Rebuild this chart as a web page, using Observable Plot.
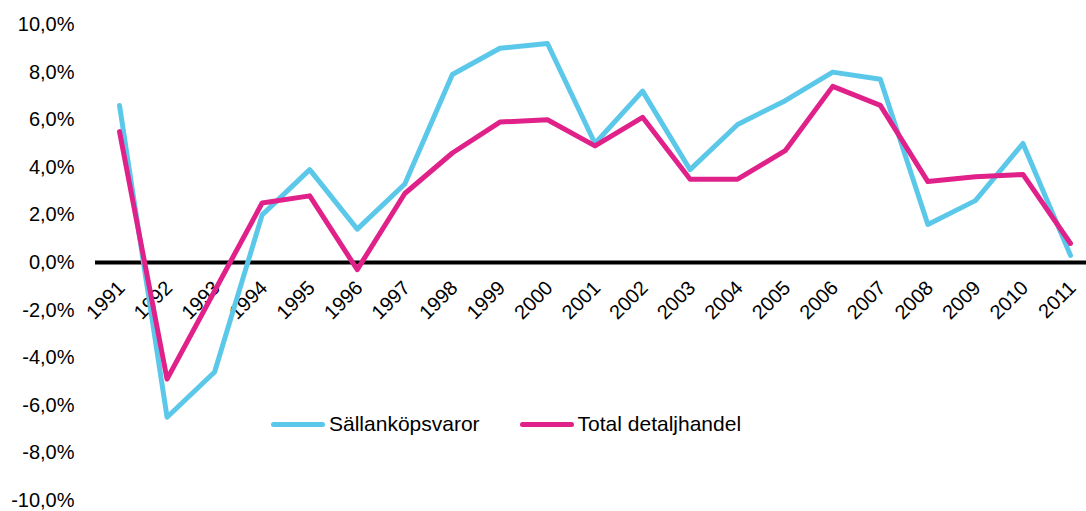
<!DOCTYPE html>
<html>
<head>
<meta charset="utf-8">
<script src="https://cdn.jsdelivr.net/npm/d3@7"></script>
<script src="https://cdn.jsdelivr.net/npm/@observablehq/plot@0.6"></script>
<style>
  html, body { margin: 0; padding: 0; background: #fff; }
  #wrap { position: relative; width: 1086px; height: 511px; font-family: "Liberation Sans", Arial, sans-serif; }
  .legend { position: absolute; top: 412px; left: 271px; display: flex; align-items: center; font-size: 21px; color: #000; }
  .legend .item { display: flex; align-items: center; }
  .legend .sw { width: 54px; height: 5px; border-radius: 3px; margin-right: 4px; }
</style>
</head>
<body>
<div id="wrap"></div>
<script>
const years = ["1991","1992","1993","1994","1995","1996","1997","1998","1999","2000","2001","2002","2003","2004","2005","2006","2007","2008","2009","2010","2011"];
const sallankop = [6.6, -6.5, -4.6, 2.0, 3.9, 1.4, 3.3, 7.9, 9.0, 9.2, 5.0, 7.2, 3.9, 5.8, 6.8, 8.0, 7.7, 1.6, 2.6, 5.0, 0.3];
const totalDetalj = [5.5, -4.9, -1.2, 2.5, 2.8, -0.3, 2.9, 4.6, 5.9, 6.0, 4.9, 6.1, 3.5, 3.5, 4.7, 7.4, 6.6, 3.4, 3.6, 3.7, 0.8];
const seriesNames = ["Sällanköpsvaror", "Total detaljhandel"];
const seriesColors = ["#5BC8EA", "#E0218A"];
const yTicks = [-10, -8, -6, -4, -2, 0, 2, 4, 6, 8, 10];

const rows = [];
years.forEach((y, i) => {
  rows.push({year: y, value: sallankop[i], series: seriesNames[0]});
  rows.push({year: y, value: totalDetalj[i], series: seriesNames[1]});
});

const fmt = v => (v.toFixed(1).replace(".", ",")) + "%";

const chart = Plot.plot({
  width: 1086,
  height: 511,
  marginLeft: 95,
  marginRight: 0,
  marginTop: 24,
  marginBottom: 11,
  style: {fontFamily: "'Liberation Sans', Arial, sans-serif", fontSize: "20px", color: "#000", background: "#fff", overflow: "visible"},
  x: {type: "point", domain: years, range: [119, 1070], padding: 0, round: false, axis: null},
  y: {domain: [-10, 10], ticks: yTicks, tickFormat: fmt, tickSize: 0, tickPadding: 21, label: null},
  color: {domain: seriesNames, range: seriesColors},
  marks: [
    Plot.ruleY([0], {stroke: "#000", strokeWidth: 4}),
    Plot.text(years, {x: d => d, y: () => 0, text: d => d, rotate: -45, textAnchor: "end", dx: 2, dy: 22, fontSize: 20, fill: "#000"}),
    Plot.line(rows.filter(d => d.series === seriesNames[0]), {x: "year", y: "value", stroke: "series", strokeWidth: 5, strokeLinejoin: "round", strokeLinecap: "round"}),
    Plot.line(rows.filter(d => d.series === seriesNames[1]), {x: "year", y: "value", stroke: "series", strokeWidth: 5, strokeLinejoin: "round", strokeLinecap: "round"})
  ]
});

const wrap = document.getElementById("wrap");
wrap.appendChild(chart);
const legend = document.createElement("div");
legend.className = "legend";
seriesNames.forEach((n, i) => {
  const it = document.createElement("div");
  it.className = "item";
  it.style.marginRight = i === 0 ? "40px" : "0";
  const sw = document.createElement("span");
  sw.className = "sw";
  sw.style.background = seriesColors[i];
  const t = document.createElement("span");
  t.textContent = n;
  it.appendChild(sw); it.appendChild(t);
  legend.appendChild(it);
});
wrap.appendChild(legend);
</script>
</body>
</html>
